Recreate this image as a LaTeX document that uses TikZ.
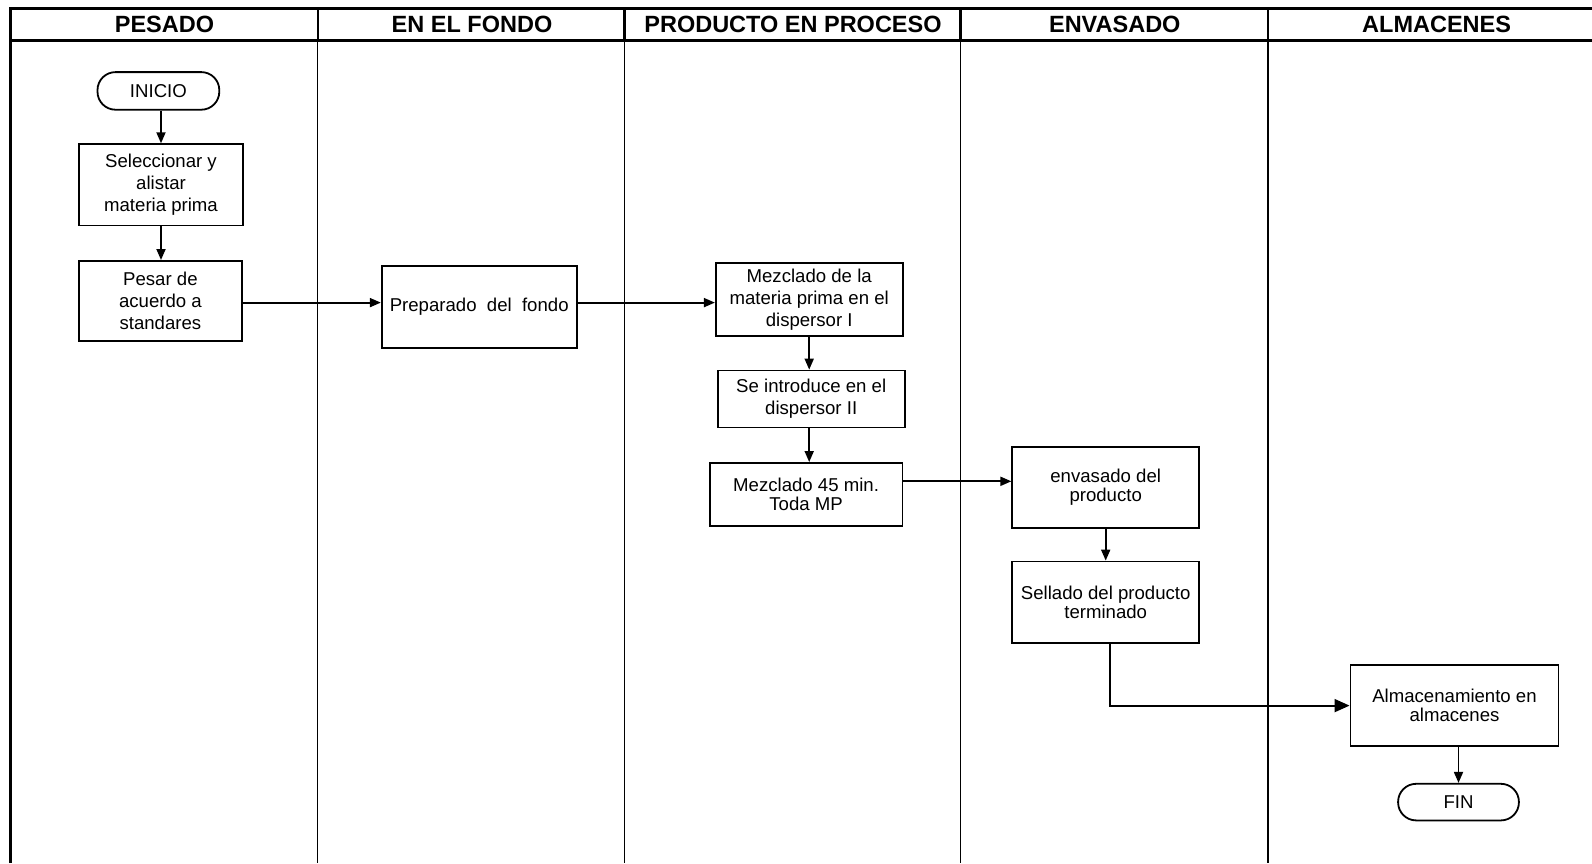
\documentclass[tikz,border=0pt]{standalone}
\usepackage{fontspec}
\setmainfont{Liberation Sans}
\usetikzlibrary{arrows.meta}
\begin{document}
\begin{tikzpicture}[x=1pt,y=-1pt,
  box/.style={draw, line width=1.8pt, inner sep=0pt, align=center,
    font=\fontsize{18.6}{21.8}\selectfont},
  tight/.style={font=\fontsize{18.6}{18.8}\selectfont},
  term/.style={box, rounded corners=18pt},
  dim/.style 2 args={minimum width=#1, minimum height=#2},
  flow/.style={line width=1.8pt, -{Triangle[length=11pt,width=9pt]}},
  bigflow/.style={line width=1.8pt, -{Triangle[length=15pt,width=13pt]}},
  lane/.style={line width=1.3pt},
  frame/.style={line width=3pt},
  head/.style={font=\fontsize{23.5}{26}\selectfont\bfseries}]

\useasboundingbox (0,0) rectangle (1592,863);
\fill[white] (0,0) rectangle (1592,863);

% swimlane frame
\draw[frame] (10.2,863) -- (10.2,8.1) -- (1592,8.1);
\draw[frame] (10.2,40.6) -- (1592,40.6);
\foreach \lx in {317.8,624.4,960.5,1268.1}{
  \draw[line width=2.5pt] (\lx,8.1) -- (\lx,40.6);
  \draw[lane] (\lx,40.6) -- (\lx,863);
}

% lane titles
\node[head] (hpes) at (164.5,24.6) {PESADO};
\node[head] (hfon) at (472,24.6) {EN EL FONDO};
\node[head] (hpro) at (793,24.6) {PRODUCTO EN PROCESO};
\node[head] (henv) at (1114.8,24.6) {ENVASADO};
\node[head] (halm) at (1436.6,24.6) {ALMACENES};

% process steps
\node[term, dim={121.8pt}{37.6pt}] (inicio) at (158.4,90.9) {INICIO};
\node[box, dim={163.5pt}{81.2pt}] (sel) at (161,184.8) {Seleccionar y\\alistar\\materia prima};
\node[box, dim={162.4pt}{80.2pt}] (pesar) at (160.4,301) {Pesar de\\acuerdo a\\standares};
\node[box, dim={194.9pt}{82.3pt}] (prep) at (479.2,307.1) {Preparado\ \ del\ \ fondo};
\node[box, dim={186.8pt}{73.1pt}] (mezuno) at (809.2,299.5) {Mezclado de la\\materia prima en el\\dispersor I};
\node[box, dim={186.9pt}{56.9pt}] (intro) at (811.2,399) {Se introduce en el\\dispersor II};
\node[box, tight, dim={192.9pt}{62.9pt}] (mezdos) at (806.1,494.4) {Mezclado 45 min.\\Toda MP};
\node[box, tight, dim={186.8pt}{81.2pt}] (env) at (1105.7,487.3) {envasado del\\producto};
\node[box, tight, dim={186.8pt}{81.2pt}] (sell) at (1105.7,602.1) {Sellado del producto\\terminado};
\node[box, tight, dim={208.1pt}{81.2pt}] (alm) at (1454.5,705.6) {Almacenamiento en\\almacenes};
\node[term, dim={120.8pt}{36.6pt}] (fin) at (1458.5,802.1) {FIN};

% flow
\draw[flow] (inicio.south -| sel.north) -- (sel.north);
\draw[flow] (sel.south) -- (sel.south |- pesar.north);
\draw[flow] ([yshift=-1.6pt]pesar.east) -- ([yshift=-1.6pt]pesar.east -| prep.west);
\draw[flow] ([yshift=-1.6pt]prep.east |- pesar.east) -- ([yshift=-1.6pt]pesar.east -| mezuno.west);
\draw[flow] (mezuno.south) -- (mezuno.south |- intro.north);
\draw[flow] (mezuno.south |- intro.south) -- (mezuno.south |- mezdos.north);
\draw[flow] ([yshift=6pt]env.west -| mezdos.east) -- ([yshift=6pt]env.west);
\draw[flow] (env.south) -- (sell.north);
\draw[bigflow] ([xshift=4pt]sell.south) |- (alm.west);
\draw[flow] (alm.south -| fin.north) -- (fin.north);
\end{tikzpicture}
\end{document}
